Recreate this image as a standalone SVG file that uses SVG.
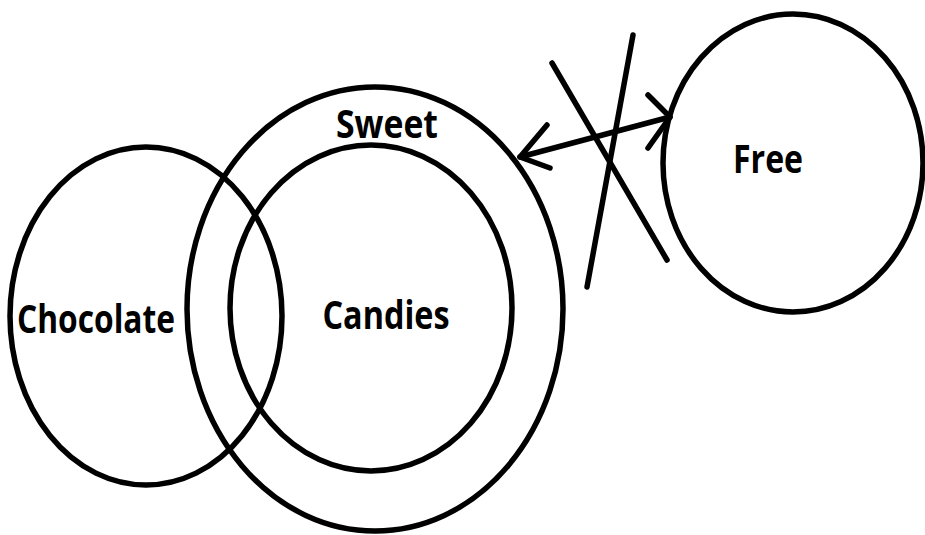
<svg xmlns="http://www.w3.org/2000/svg" width="925" height="535" viewBox="0 0 925 535">
<style>
.shape{fill:none;stroke:#000;stroke-width:5.5;}
.lbl{font-family:"Open Sans","Liberation Sans",sans-serif;font-weight:700;font-size:39px;fill:#000;text-anchor:middle;}
.ln{stroke:#000;stroke-width:5.5;stroke-linecap:round;fill:none;stroke-linejoin:round;}
</style>
<rect width="925" height="535" fill="#fff"/>
<g id="chocolate">
<ellipse class="shape" cx="146" cy="316" rx="136" ry="169"/>
<text class="lbl" x="96" y="333" textLength="158" lengthAdjust="spacingAndGlyphs">Chocolate</text>
</g>
<g id="sweet">
<ellipse class="shape" cx="375" cy="309" rx="188" ry="222"/>
<text class="lbl" x="387" y="138" textLength="102" lengthAdjust="spacingAndGlyphs">Sweet</text>
</g>
<g id="candies">
<ellipse class="shape" cx="371" cy="308" rx="141" ry="163"/>
<text class="lbl" x="386" y="329" textLength="127" lengthAdjust="spacingAndGlyphs">Candies</text>
</g>
<g id="free">
<ellipse class="shape" cx="793" cy="163" rx="130" ry="149"/>
<text class="lbl" x="768" y="173" textLength="70" lengthAdjust="spacingAndGlyphs">Free</text>
</g>
<g id="connectors">
<line class="ln" x1="520" y1="157" x2="670" y2="117"/>
<polyline class="ln" points="547,125 520,157 550,168"/>
<polyline class="ln" points="648,95 670,117 648,148"/>
<line class="ln" x1="552" y1="63" x2="667" y2="260"/>
<line class="ln" x1="633" y1="35" x2="587" y2="287"/>
</g>
</svg>
